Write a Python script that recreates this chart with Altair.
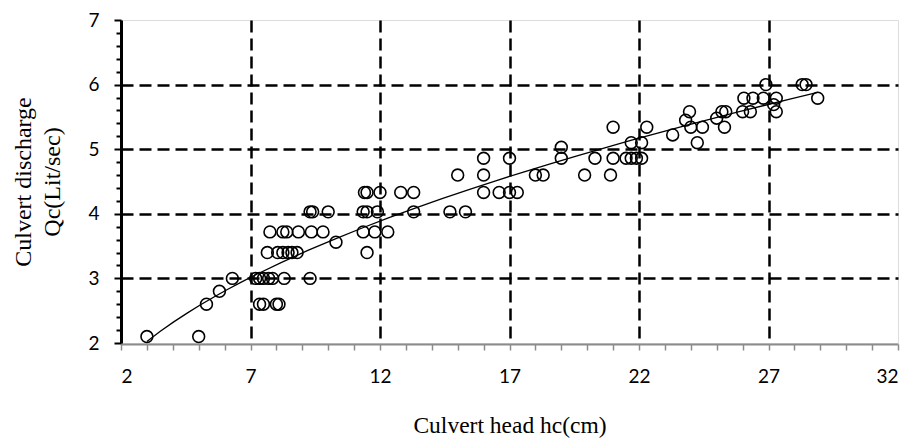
import altair as alt
import pandas as pd

# Culvert head hc (cm) and discharge Qc (Lit/sec)
head = [
    3.0, 5.0, 5.3, 5.8, 6.3,
    7.2, 7.35, 7.5, 7.7, 7.85, 8.3, 9.3,
    7.35, 7.5, 8.0, 8.1,
    7.65, 8.05, 8.25, 8.45, 8.6, 8.8, 11.5,
    7.75, 8.25, 8.4, 8.85, 9.35, 9.8, 11.35, 11.8, 12.3,
    9.3, 9.4, 10.0, 11.35, 11.5, 11.9, 13.3, 14.7, 15.3,
    10.3,
    11.4, 11.5, 12.0, 12.8, 13.3, 16.0, 16.6, 17.0, 17.3,
    15.0, 16.0, 18.0, 18.3, 19.9, 20.9,
    16.0, 17.0, 19.0, 20.3, 21.0, 21.5, 21.7, 21.9, 22.1,
    19.0,
    21.7, 22.1, 24.25,
    21.0, 22.3, 24.0, 24.45, 25.3,
    23.3, 23.8, 25.0,
    23.95, 25.2, 25.35, 26.0, 26.3, 27.3,
    26.05, 26.4, 26.8, 27.3, 28.9,
    27.2,
    26.9, 28.3, 28.45,
]
discharge = [
    2.1, 2.1, 2.6, 2.8, 3.0,
    3.0, 3.0, 3.0, 3.0, 3.0, 3.0, 3.0,
    2.6, 2.6, 2.6, 2.6,
    3.4, 3.4, 3.4, 3.4, 3.4, 3.4, 3.4,
    3.72, 3.72, 3.72, 3.72, 3.72, 3.72, 3.72, 3.72, 3.72,
    4.03, 4.03, 4.03, 4.03, 4.03, 4.03, 4.03, 4.03, 4.03,
    3.56,
    4.33, 4.33, 4.33, 4.33, 4.33, 4.33, 4.33, 4.33, 4.33,
    4.6, 4.6, 4.6, 4.6, 4.6, 4.6,
    4.86, 4.86, 4.86, 4.86, 4.86, 4.86, 4.86, 4.86, 4.86,
    5.03,
    5.1, 5.1, 5.1,
    5.34, 5.34, 5.34, 5.34, 5.34,
    5.22, 5.45, 5.48,
    5.58, 5.58, 5.58, 5.58, 5.58, 5.58,
    5.79, 5.79, 5.79, 5.79, 5.79,
    5.69,
    6.0, 6.0, 6.0,
]

x_ticks = list(range(2, 33))
y_ticks = [round(2 + 0.2 * i, 1) for i in range(26)]

df = pd.DataFrame({"hc": head, "Qc": discharge})

xscale = alt.Scale(domain=[2, 32], nice=False, zero=False)
yscale = alt.Scale(domain=[2, 7], nice=False, zero=False)

x_axis = alt.Axis(
    values=x_ticks, tickCount=500, labelOverlap=False,
    labelExpr="(datum.value - 2) % 5 === 0 ? format(datum.value, 'd') : ''",
    gridOpacity={"condition": {"test": "(datum.value - 2) % 5 === 0 && datum.value > 2 && datum.value < 32", "value": 1}, "value": 0},
    grid=True, gridColor="black", gridDash=[12, 6], gridWidth=2.5,
    tickColor="#8c8c8c", tickWidth=1.5, tickSize=6,
    domainColor="#8c8c8c", domainWidth=2, offset=1,
    labelFont="Lato", labelFontSize=19, labelColor="black", labelPadding=17,
    title="Culvert head hc(cm)", titleFont="Liberation Serif", titleFontSize=23.5,
    titleFontWeight="normal", titleColor="black", titlePadding=27,
)

y_axis = alt.Axis(
    values=y_ticks, tickCount=500, labelOverlap=False,
    labelExpr="abs(datum.value - round(datum.value)) < 0.001 ? format(datum.value, 'd') : ''",
    gridOpacity={"condition": {"test": "abs(datum.value - round(datum.value)) < 0.001 && datum.value > 2.5 && datum.value < 6.5", "value": 1}, "value": 0},
    tickSize={"condition": {"test": "abs(datum.value - round(datum.value)) < 0.001", "value": 7}, "value": 5},
    grid=True, gridColor="black", gridDash=[12, 6], gridWidth=2.5,
    tickColor="black", tickWidth=2,
    domainColor="black", domainWidth=3,
    labelFont="Lato", labelFontSize=19, labelColor="black", labelPadding=15,
    title=["Culvert discharge", "Qc(Lit/sec)"], titleFont="Liberation Serif", titleFontSize=24,
    titleFontWeight="normal", titleColor="black", titlePadding=23, titleLineHeight=29,
)

points = alt.Chart(df).mark_point(
    shape="circle", filled=False, size=140, strokeWidth=1.6, color="black", opacity=1
).encode(
    x=alt.X("hc:Q", scale=xscale, axis=x_axis),
    y=alt.Y("Qc:Q", scale=yscale, axis=y_axis),
)

trend = alt.Chart(df).transform_regression(
    "hc", "Qc", method="pow"
).mark_line(color="black", strokeWidth=1.3).encode(
    x=alt.X("hc:Q", scale=xscale),
    y=alt.Y("Qc:Q", scale=yscale),
)

chart = alt.layer(points, trend).properties(
    width=777,
    height=323,
    autosize="none",
    padding={"left": 113, "top": 12, "right": 6, "bottom": 95},
).configure_view(
    stroke="black", strokeWidth=2.5
).configure(background="white")

chart.save("out.html", embed_options={"renderer": "svg", "actions": False})
